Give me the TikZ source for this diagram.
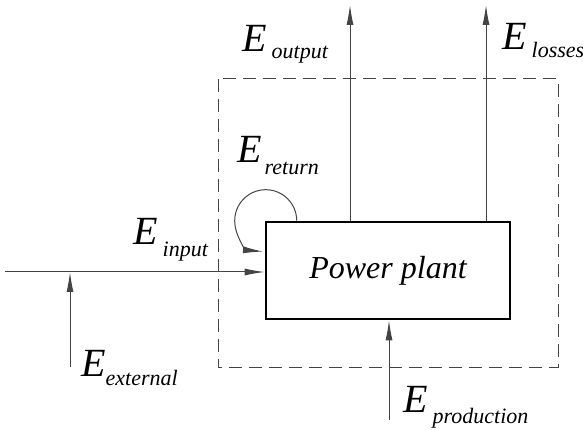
\documentclass[tikz,border=0pt]{standalone}
\usepackage{fontspec}
\setmainfont{Liberation Serif}
\usepackage{tikz}
\usetikzlibrary{calc, arrows.meta}

\definecolor{linegray}{HTML}{444444}
\newcommand{\elab}[3]{{\fontsize{40}{40}\selectfont E}\kern#1\raisebox{-#2}{\fontsize{22}{22}\selectfont #3}}

\tikzset{
  flow/.style = {draw=linegray, line width=1pt, -{Latex[length=20pt,width=7pt]}},
  lab/.style = {anchor=base west, inner sep=0pt, font=\itshape},
  plantbox/.style = {draw=black, line width=2.6pt, minimum width=244pt,
    minimum height=97pt, inner sep=0pt, font=\itshape\fontsize{32}{32}\selectfont}
}

\begin{document}
\begin{tikzpicture}[x=1pt, y=1pt]
  \useasboundingbox (0,0) rectangle (583,430);
  % system boundary
  \draw[linegray, line width=1pt, dash pattern=on 13pt off 7pt]
  (218,351) rectangle (558,62);
  \node[plantbox] (plant) at (388,159.5) {Power plant};
  % free ends
  \coordinate (in) at (5,158);
  \coordinate (ext) at (70,63);
  \coordinate (out) at (350,425);
  \coordinate (loss) at (486,425);
  \coordinate (prod) at (389,10);
  \draw[flow] (in) -- (in -| plant.west);
  \draw[flow] (ext) -- (ext |- in);
  \draw[flow] (out |- plant.north) -- (out);
  \draw[flow] (loss |- plant.north) -- (loss);
  \draw[flow] (prod) -- (prod |- plant.south);
  \draw[flow] ($(plant.north west)+(32,0)$) arc[start angle=0, end angle=265,
  radius=31pt];
  % labels
  \node[lab] (l-out) at (242,378) {\elab{5pt}{7pt}{output}};
  \node[lab] (l-loss) at (502,380) {\elab{5pt}{8pt}{losses}};
  \node[lab] (l-ret) at (237,267) {\elab{3pt}{12pt}{return}};
  \node[lab] (l-in) at (133,185) {\elab{5pt}{12pt}{input}};
  \node[lab] (l-ext) at (81,53) {\elab{0pt}{9pt}{external}};
  \node[lab] (l-prod) at (403,17) {\elab{5pt}{11pt}{production}};
\end{tikzpicture}
\end{document}
